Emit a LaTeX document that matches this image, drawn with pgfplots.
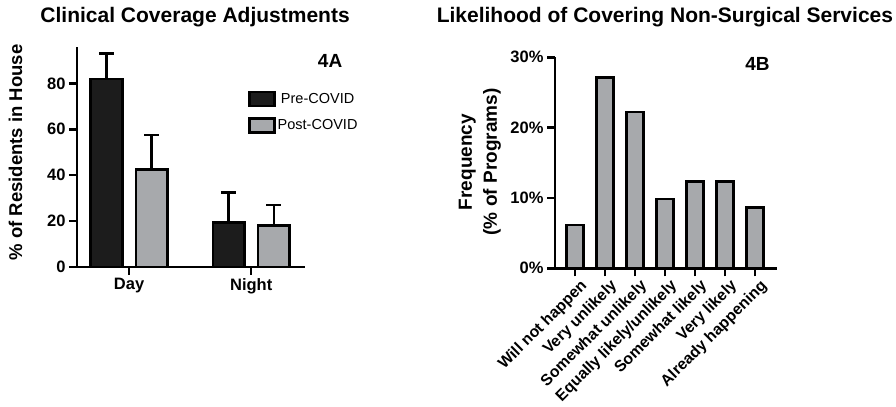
\documentclass[border=0pt]{standalone}
\usepackage{pgfplots}
\pgfplotsset{compat=1.18}
\usepackage{fontspec}
\setmainfont{Liberation Sans}
\definecolor{bargray}{RGB}{167,169,172}
\definecolor{barblack}{RGB}{28,28,28}
\pgfplotsset{
  gpstyle/.style={
    scale only axis,
    axis lines=left,
    axis line style={-, line width=2.5bp, black},
    tick align=outside,
    major tick length=8bp,
    every tick/.style={line width=2.5bp, black},
    ticklabel style={font=\fontsize{16.5bp}{19bp}\selectfont\bfseries, black},
    /pgf/number format/assume math mode=true,
    clip=false,
  }
}
\begin{document}
\begin{tikzpicture}
\path[use as bounding box] (0bp,0bp) rectangle (896bp,407bp);
% ---------- 4A ----------
\begin{axis}[gpstyle,
  at={(77bp,140bp)}, anchor=south west,
  width=228bp, height=220.3bp,
  xmin=-0.426, xmax=1.44, ymin=0, ymax=96,
  ybar, bar width=0.26,
  xtick={0,1}, xticklabels={Day,Night},
  ytick={0,20,40,60,80},
  ylabel={\% of Residents in House},
  ylabel style={font=\fontsize{18.5bp}{21bp}\selectfont\bfseries, at={(axis description cs:-0.27,0.52)}, anchor=center},
  title={Clinical Coverage Adjustments},
  title style={font=\fontsize{21bp}{24bp}\selectfont\bfseries, at={(axis description cs:0.518,1.108)}, anchor=center},
  error bars/y dir=plus, error bars/y explicit,
  error bars/error bar style={line width=2.5bp, black},
  error bars/error mark options={line width=2.5bp, black, mark size=7.5bp, rotate=90},
  legend image code/.code={\draw[#1,line width=2.5bp] (0bp,-7bp) rectangle (25bp,7bp);},
  legend style={at={(axis description cs:0.737,0.81)}, anchor=north west, draw=none, fill=none,
    font=\fontsize{14.5bp}{17bp}\selectfont, row sep=10bp},
]
\addplot[fill=barblack, draw=black, line width=2.5bp, bar shift=-0.185]
  coordinates {(0,82) +- (0,11) (1,19.5) +- (0,13)};
\addplot[fill=bargray, draw=black, line width=2.5bp, bar shift=0.185]
  coordinates {(0,42.5) +- (0,15) (1,18) +- (0,9)};
\legend{Pre-COVID, Post-COVID}
\node[font=\fontsize{19bp}{22bp}\selectfont\bfseries] at (rel axis cs:1.11,0.935) {4A};
\end{axis}
% ---------- 4B ----------
\begin{axis}[gpstyle,
  at={(555bp,138.7bp)}, anchor=south west,
  width=222bp, height=211bp,
  xmin=-0.67, xmax=6.73, ymin=0, ymax=30,
  ybar, bar width=0.57,
  xtick={0,1,2,3,4,5,6},
  xticklabels={Will not happen, Very unlikely, Somewhat unlikely, Equally likely/unlikely, Somewhat likely, Very likely, Already happening},
  x tick label style={rotate=45, anchor=north east, xshift=5bp, yshift=-1bp, font=\fontsize{15.8bp}{18bp}\selectfont\bfseries},
  ytick={0,10,20,30}, yticklabels={0\%,10\%,20\%,30\%},
  ylabel={Frequency\\(\% of Programs)},
  ylabel style={font=\fontsize{19bp}{25bp}\selectfont\bfseries, align=center, at={(axis description cs:-0.338,0.504)}, anchor=center},
  title={Likelihood of Covering Non-Surgical Services},
  title style={font=\fontsize{21bp}{24bp}\selectfont\bfseries, at={(axis description cs:0.495,1.163)}, anchor=center},
]
\addplot[fill=bargray, draw=black, line width=2.5bp, bar shift=0]
  coordinates {(0,6.17) (1,27.16) (2,22.22) (3,9.88) (4,12.35) (5,12.35) (6,8.64)};
\node[font=\fontsize{19bp}{22bp}\selectfont\bfseries] at (rel axis cs:0.912,0.968) {4B};
\end{axis}
\end{tikzpicture}
\end{document}
